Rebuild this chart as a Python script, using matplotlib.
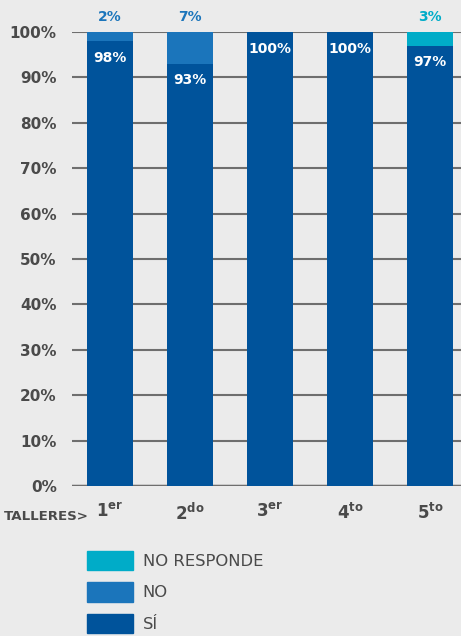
import matplotlib.pyplot as plt
from matplotlib.patches import Patch

talleres = ["1", "2", "3", "4", "5"]
sufijos = ["er", "do", "er", "to", "to"]
si = [98, 93, 100, 100, 97]
no = [2, 7, 0, 0, 0]
no_responde = [0, 0, 0, 0, 3]

c_si = "#00539b"
c_no = "#1b75bb"
c_nr = "#00acc8"
gris = "#4a4a4a"
fondo = "#ebebeb"

plt.rcParams["mathtext.fontset"] = "dejavusans"
plt.rcParams["mathtext.default"] = "bf"

fig = plt.figure(figsize=(4.61, 6.36), dpi=100, facecolor=fondo)
ax = fig.add_axes([0.156, 0.2358, 0.844, 0.7139], facecolor=fondo)

x = list(range(len(talleres)))
w = 0.575
ax.bar(x, si, w, color=c_si, zorder=3)
ax.bar(x, no, w, bottom=si, color=c_no, zorder=3)
ax.bar(x, no_responde, w, bottom=[a + b for a, b in zip(si, no)], color=c_nr, zorder=3)

for i in x:
    ax.annotate(f"{si[i]}%", (i, si[i]), xytext=(0, -7), textcoords="offset points",
                ha="center", va="top", color="white", fontsize=10, fontweight="bold", zorder=4)
    if no[i]:
        ax.annotate(f"{no[i]}%", (i, 100), xytext=(0, 6), textcoords="offset points",
                    ha="center", va="bottom", color=c_no, fontsize=10, fontweight="bold",
                    annotation_clip=False)
    if no_responde[i]:
        ax.annotate(f"{no_responde[i]}%", (i, 100), xytext=(0, 6), textcoords="offset points",
                    ha="center", va="bottom", color=c_nr, fontsize=10, fontweight="bold",
                    annotation_clip=False)

ax.set_xlim(-0.475, 4.3875)
ax.set_ylim(0, 100)
ax.set_yticks(range(0, 101, 10))
ax.set_yticklabels([f"{v}%" for v in range(0, 101, 10)], fontsize=11, fontweight="bold", color=gris)
ax.set_xticks(x)
ax.set_xticklabels([f"{t}$^{{{s}}}$" for t, s in zip(talleres, sufijos)],
                   fontsize=12, fontweight="bold", color=gris)
ax.tick_params(length=0, pad=11)
ax.tick_params(axis="x", pad=12)
ax.grid(axis="y", color="#6e6e6e", linewidth=1.5, zorder=1)
for s in ax.spines.values():
    s.set_visible(False)
ax.axhline(0, color="#6e6e6e", linewidth=2.5, zorder=2)

fig.text(0.193, 1 - 520 / 636, "TALLERES>", ha="right", va="baseline",
         fontsize=9.6, fontweight="bold", color=gris)

handles = [Patch(color=c_nr), Patch(color=c_no), Patch(color=c_si)]
fig.legend(handles, ["NO RESPONDE", "NO", "SÍ"], loc="upper left",
           bbox_to_anchor=(0.189, 1 - 551 / 636), frameon=False,
           fontsize=11.8, labelcolor=gris, handlelength=2.8, handleheight=1.45,
           labelspacing=0.72, handletextpad=0.6, borderpad=0, borderaxespad=0)

fig.savefig("out.png", dpi=100, facecolor=fondo)
